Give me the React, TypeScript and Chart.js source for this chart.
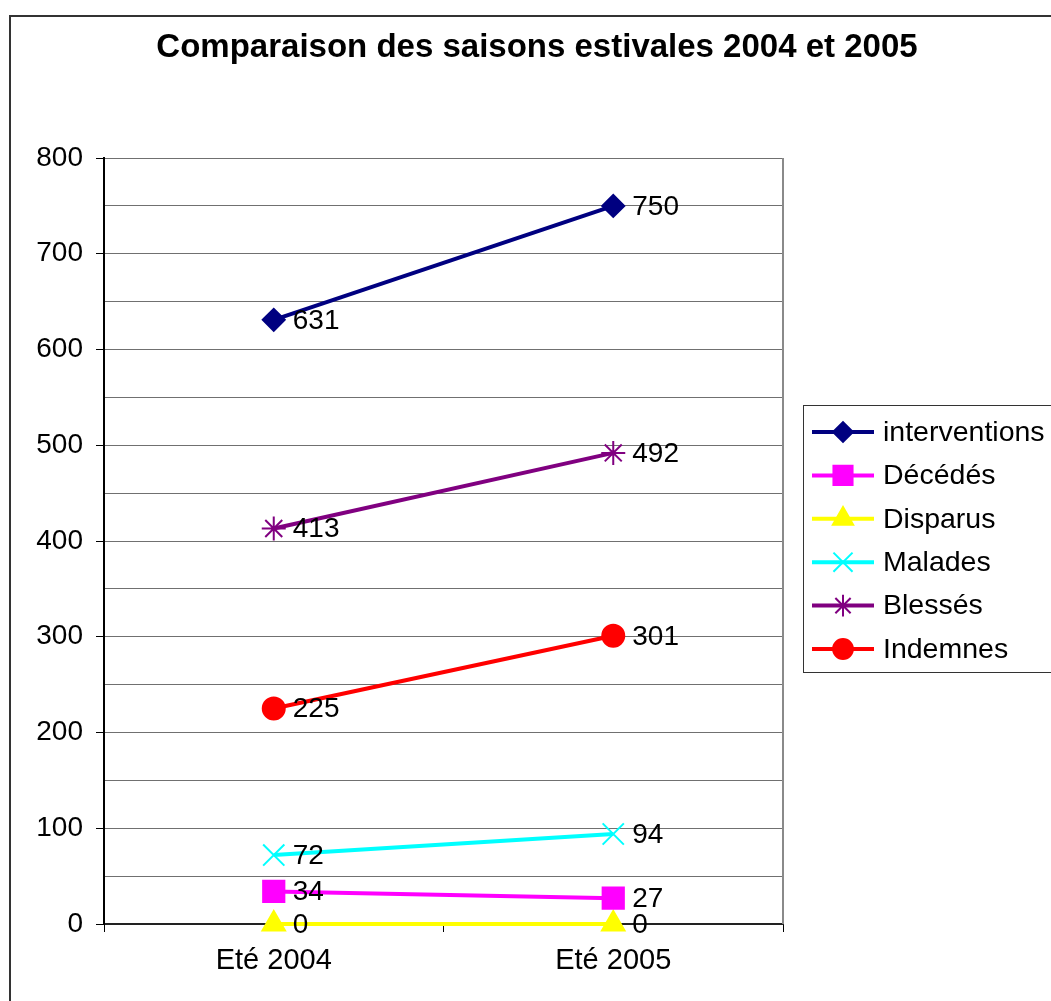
import React, { useEffect, useRef } from 'react';
import { Chart, registerables } from 'chart.js';
import { drawPoint } from 'chart.js/helpers';

Chart.register(...registerables);

// ---- Data ----
const TITLE = 'Comparaison des saisons estivales 2004 et 2005';
const categories = ['Eté 2004', 'Eté 2005'];
const seriesNames = ['interventions', 'Décédés', 'Disparus', 'Malades', 'Blessés', 'Indemnes'];
const interventions = [631, 750];
const decedes = [34, 27];
const disparus = [0, 0];
const malades = [72, 94];
const blesses = [413, 492];
const indemnes = [225, 301];
const yMin = 0;
const yMax = 800;
const yLabelStep = 100;
const yGridStep = 50;

const FONT = 'Arial, "Liberation Sans", Helvetica, sans-serif';
const W = 1060;
const H = 1000;

const seriesStyle = [
  { color: '#000080', pointStyle: 'rectRot', radius: 11 },
  { color: '#FF00FF', pointStyle: 'rect', radius: 15 },
  { color: '#FFFF00', pointStyle: 'triangle', radius: 13 },
  { color: '#00FFFF', pointStyle: 'crossRot', radius: 15 },
  { color: '#800080', pointStyle: 'star', radius: 12 },
  { color: '#FF0000', pointStyle: 'circle', radius: 11 },
];
const seriesValues = [interventions, decedes, disparus, malades, blesses, indemnes];

const framePlugin = {
  id: 'frame',
  beforeDraw(chart: any) {
    const ctx = chart.ctx;
    ctx.save();
    ctx.fillStyle = '#fff';
    ctx.fillRect(0, 0, chart.width, chart.height);
    ctx.strokeStyle = '#333';
    ctx.lineWidth = 2;
    ctx.strokeRect(1, 1, chart.width - 2, chart.height - 2);
    // title
    ctx.fillStyle = '#000';
    ctx.font = `bold 33px ${FONT}`;
    ctx.textAlign = 'center';
    ctx.textBaseline = 'alphabetic';
    ctx.fillText(TITLE, 528, 42);
    ctx.restore();
  },
  beforeDatasetsDraw(chart: any) {
    const { ctx, chartArea } = chart;
    ctx.save();
    ctx.strokeStyle = '#8a8a8a';
    ctx.lineWidth = 2;
    ctx.beginPath();
    ctx.moveTo(chartArea.right, chartArea.top);
    ctx.lineTo(chartArea.right, chartArea.bottom);
    ctx.stroke();
    ctx.restore();
  },
  afterDatasetsDraw(chart: any) {
    const ctx = chart.ctx;
    ctx.save();
    ctx.fillStyle = '#000';
    ctx.font = `28px ${FONT}`;
    ctx.textAlign = 'left';
    ctx.textBaseline = 'middle';
    chart.data.datasets.forEach((ds: any, i: number) => {
      const meta = chart.getDatasetMeta(i);
      meta.data.forEach((pt: any, j: number) => {
        ctx.fillText(String(ds.data[j]), pt.x + 19, pt.y + 1);
      });
    });
    ctx.restore();
  },
  afterDraw(chart: any) {
    const ctx = chart.ctx;
    ctx.save();
    // legend box
    const bx = 794, by = 390, bw = 262, bh = 267;
    ctx.strokeStyle = '#333';
    ctx.lineWidth = 1;
    ctx.strokeRect(bx + 0.5, by + 0.5, bw, bh);
    const step = 43.4;
    chart.data.datasets.forEach((ds: any, i: number) => {
      const cy = by + 27 + i * step;
      ctx.strokeStyle = ds.borderColor;
      ctx.lineWidth = 4;
      ctx.beginPath();
      ctx.moveTo(803, cy);
      ctx.lineTo(865, cy);
      ctx.stroke();
      ctx.fillStyle = ds.pointBackgroundColor;
      ctx.strokeStyle = ds.borderColor;
      ctx.lineWidth = ds.pointBorderWidth;
      drawPoint(ctx, {
        pointStyle: ds.pointStyle,
        radius: ds.pointRadius * 0.9,
        borderWidth: ds.pointBorderWidth,
        rotation: 0,
      } as any, 834, cy);
      ctx.fillStyle = '#000';
      ctx.font = `28.5px ${FONT}`;
      ctx.textAlign = 'left';
      ctx.textBaseline = 'middle';
      ctx.fillText(ds.label, 874, cy + 1);
    });
    ctx.restore();
  },
};

export default function App() {
  const ref = useRef<HTMLCanvasElement>(null);
  useEffect(() => {
    const datasets = seriesNames.map((name, i) => ({
      label: name,
      data: seriesValues[i],
      borderColor: seriesStyle[i].color,
      backgroundColor: seriesStyle[i].color,
      pointBackgroundColor: seriesStyle[i].color,
      pointBorderColor: seriesStyle[i].color,
      pointStyle: seriesStyle[i].pointStyle,
      pointRadius: seriesStyle[i].radius,
      pointHoverRadius: seriesStyle[i].radius,
      pointBorderWidth: 2,
      borderWidth: 4,
      tension: 0,
      fill: false,
      clip: false,
    }));
    const chart = new Chart(ref.current!, {
      type: 'line',
      data: { labels: categories, datasets },
      plugins: [framePlugin],
      options: {
        animation: false,
        responsive: false,
        devicePixelRatio: 1,
        events: [],
        layout: { padding: { left: 10, top: 143, right: 286, bottom: 31 } },
        plugins: {
          legend: { display: false },
          title: { display: false },
          tooltip: { enabled: false },
        },
        scales: {
          x: {
            type: 'category',
            offset: true,
            grid: {
              offset: true,
              drawOnChartArea: false,
              drawTicks: true,
              tickLength: 8,
              color: '#000',
              lineWidth: 1,
            },
            border: { display: true, color: '#222', width: 2 },
            ticks: {
              font: { family: FONT, size: 29 },
              color: '#000',
              padding: 12,
              maxRotation: 0,
              autoSkip: false,
            },
            afterFit: (s: any) => { s.height = 60; },
          },
          y: {
            min: yMin,
            max: yMax,
            ticks: {
              stepSize: yGridStep,
              autoSkip: false,
              callback: (v: any) => (Number(v) % yLabelStep === 0 ? String(v) : ''),
              font: { family: FONT, size: 28 },
              color: '#000',
              padding: 13,
            },
            grid: {
              color: '#707070',
              lineWidth: 1,
              tickLength: 8,
              tickWidth: 1,
              tickColor: (c: any) => (c.tick && c.tick.value % yLabelStep === 0 ? '#000' : 'rgba(0,0,0,0)'),
            },
            border: { display: true, color: '#000', width: 2 },
            afterFit: (s: any) => { s.width = 85; },
          },
        },
      } as any,
    });
    return () => chart.destroy();
  }, []);
  return (
    <div style={{ position: 'fixed', left: 0, top: 0, width: 1051, height: 1001, overflow: 'hidden', background: '#fff' }}>
      <div style={{ position: 'absolute', left: 9, top: 15 }}>
        <canvas ref={ref} width={W} height={H} style={{ display: 'block', width: W, height: H }} />
      </div>
    </div>
  );
}
